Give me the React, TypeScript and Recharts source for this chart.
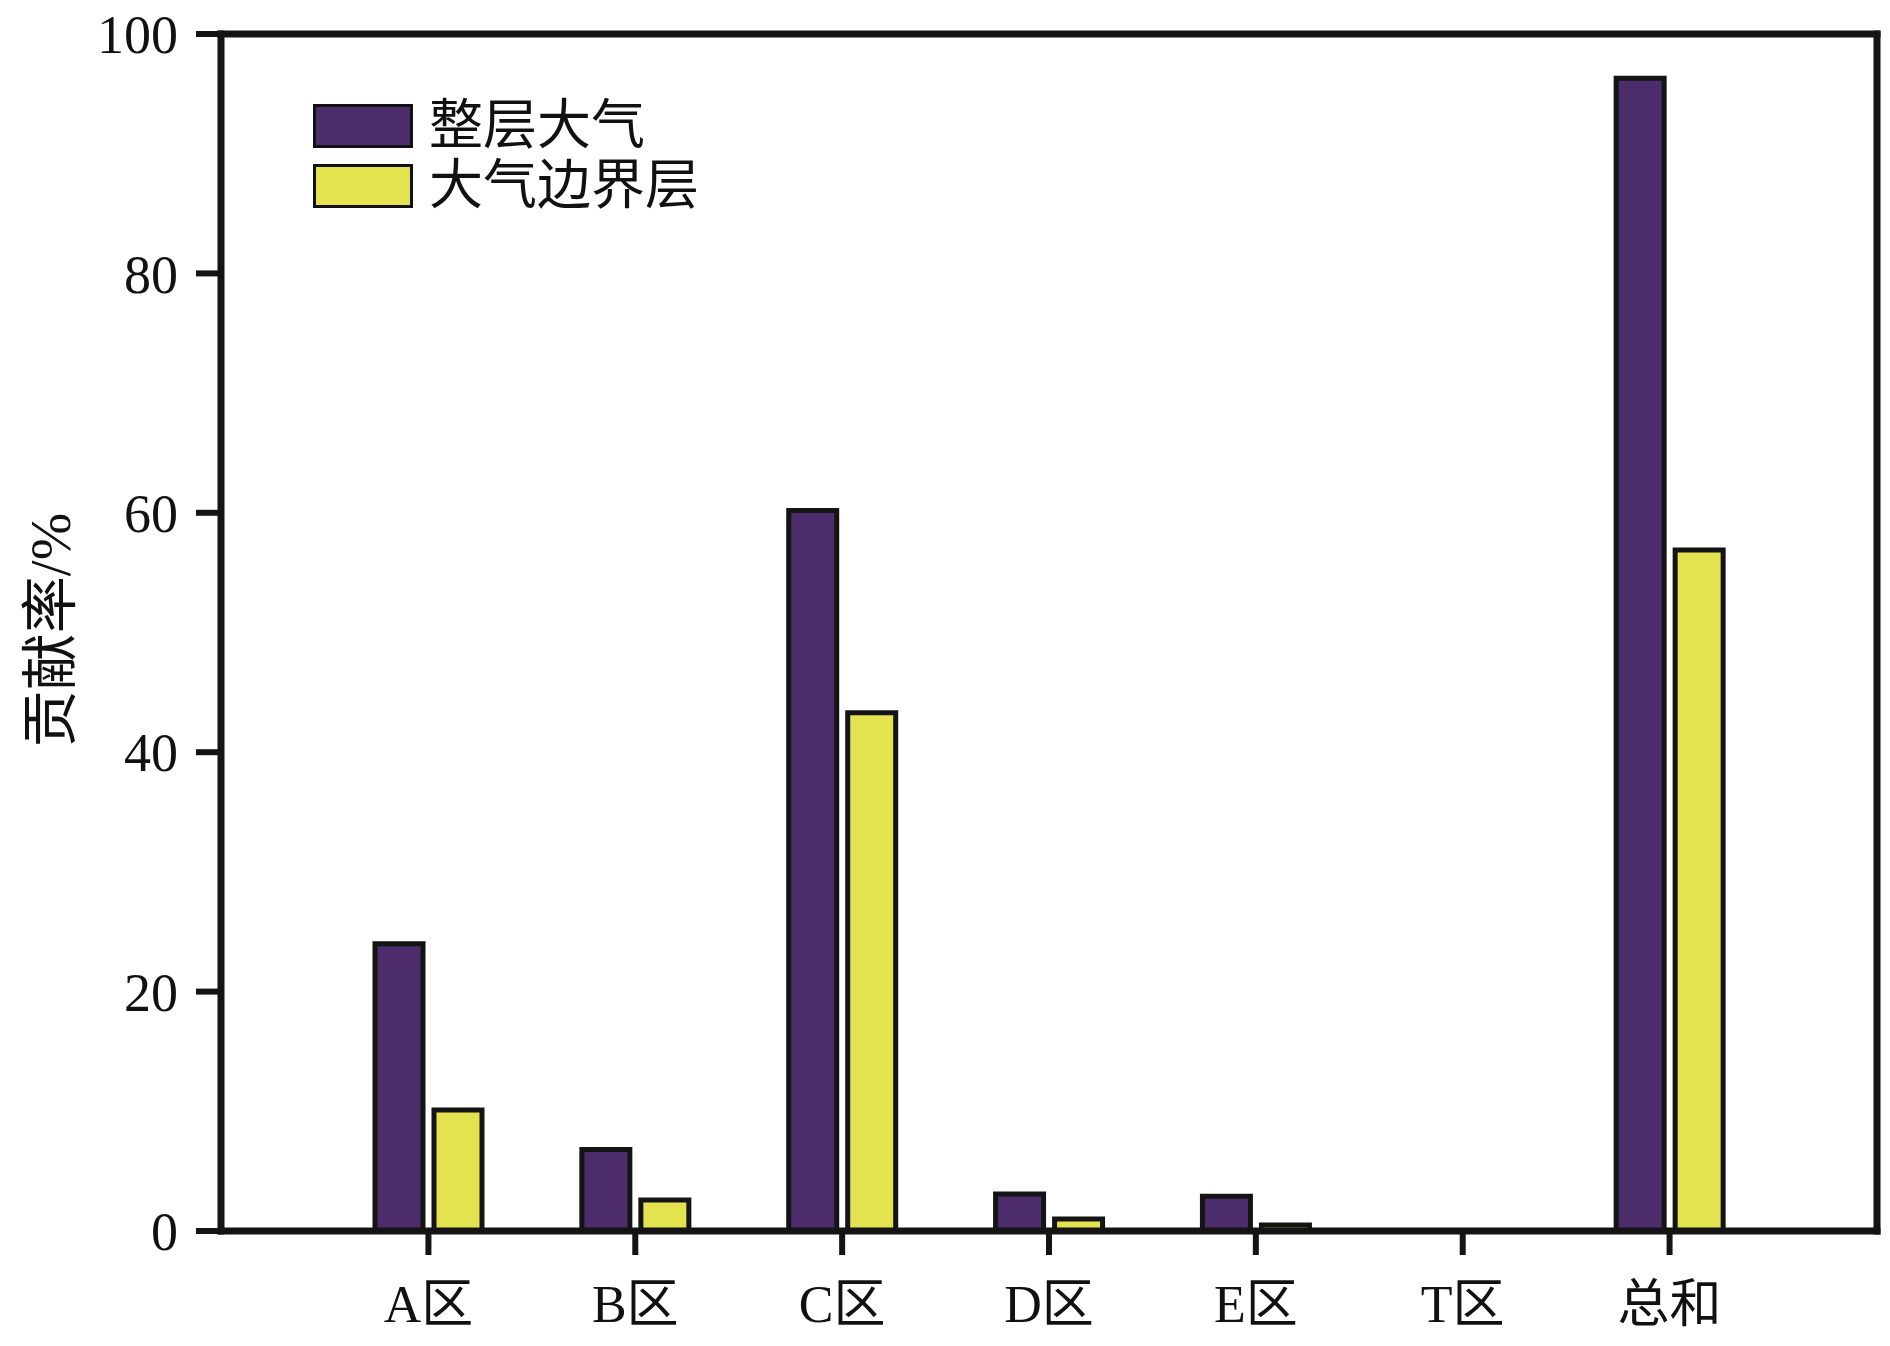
import React from 'react'
import { BarChart, Bar, XAxis, YAxis, Label } from 'recharts'

// categories along the x axis
const categories = ['A区', 'B区', 'C区', 'D区', 'E区', 'T区', '总和']
// contribution rate (%) for the whole atmosphere column
const wholeAtmosphere = [24.0, 6.8, 60.2, 3.1, 2.9, 0, 96.3]
// contribution rate (%) for the atmospheric boundary layer
const boundaryLayer = [10.1, 2.6, 43.3, 1.0, 0.5, 0, 56.9]
const yTicks = [0, 20, 40, 60, 80, 100]

const seriesNames = ['整层大气', '大气边界层']
const PURPLE = '#4b2d6b'
const YELLOW = '#e3e24f'
const FONT = "'Times New Roman', 'Liberation Serif', 'Noto Sans CJK SC', serif"

const data = categories.map((name, i) => ({
  name,
  whole: wholeAtmosphere[i],
  boundary: boundaryLayer[i],
}))

function LegendBox() {
  const items = [
    { label: seriesNames[0], color: PURPLE },
    { label: seriesNames[1], color: YELLOW },
  ]
  return (
    <div style={{ position: 'absolute', left: 313, top: 96, fontFamily: FONT }}>
      {items.map((it) => (
        <div key={it.label} style={{ display: 'flex', alignItems: 'center', height: 60 }}>
          <div style={{ width: 94, height: 38, background: it.color, border: '3px solid #111' }} />
          <span style={{ fontSize: 54, marginLeft: 16, color: '#111', lineHeight: '60px' }}>{it.label}</span>
        </div>
      ))}
    </div>
  )
}

const axisStroke = { stroke: '#141414', strokeWidth: 7, strokeLinecap: 'square' as const }

export default function App() {
  return (
    <div style={{ position: 'absolute', left: 0, top: 0, width: 1890, height: 1346, background: '#fff' }}>
      <BarChart
        width={1890}
        height={1346}
        data={data}
        margin={{ top: 33, right: 12, bottom: 0, left: 0 }}
        barSize={48}
        barGap={11}
      >
        <XAxis
          dataKey="name"
          height={115}
          padding={{ left: 104, right: 104 }}
          axisLine={axisStroke}
          tickLine={{ stroke: '#141414', strokeWidth: 6 }}
          tickSize={24}
          tickMargin={30}
          tick={{ fill: '#111', fontSize: 52, fontFamily: FONT }}
        />
        <XAxis xAxisId="top" dataKey="name" orientation="top" height={1} tick={false} tickLine={false} axisLine={axisStroke} />
        <YAxis
          width={221}
          domain={[0, 100]}
          ticks={yTicks}
          axisLine={axisStroke}
          tickLine={{ stroke: '#141414', strokeWidth: 6 }}
          tickSize={25}
          tickMargin={18}
          tick={{ fill: '#111', fontSize: 54, fontFamily: FONT }}
        >
          <Label
            content={() => (
              <text
                x={50}
                y={630}
                transform="rotate(-90 50 630)"
                textAnchor="middle"
                dominantBaseline="central"
                fontSize={57}
                fontFamily={FONT}
                fill="#111"
              >
                贡献率/%
              </text>
            )}
          />
        </YAxis>
        <YAxis yAxisId="right" orientation="right" width={1} tick={false} tickLine={false} axisLine={axisStroke} domain={[0, 100]} />
        <Bar dataKey="whole" name={seriesNames[0]} fill={PURPLE} stroke="#141414" strokeWidth={5} isAnimationActive={false} />
        <Bar dataKey="boundary" name={seriesNames[1]} fill={YELLOW} stroke="#141414" strokeWidth={5} isAnimationActive={false} />
      </BarChart>
      <LegendBox />
    </div>
  )
}
